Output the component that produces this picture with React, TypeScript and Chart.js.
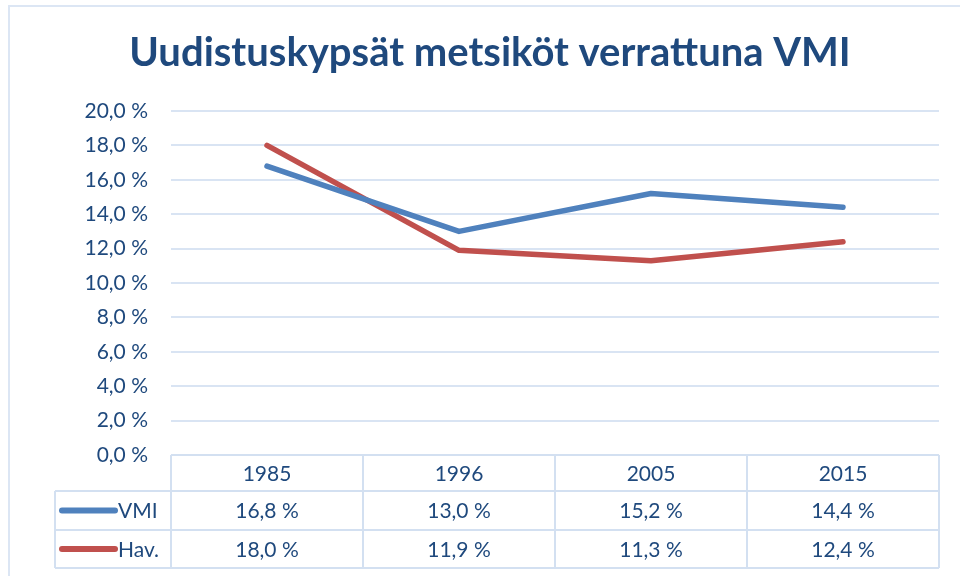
import React, { useEffect, useRef } from "react";
import { Chart, registerables } from "chart.js";

Chart.register(...registerables);

const categories = ["1985", "1996", "2005", "2015"];
const vmiValues = [16.8, 13.0, 15.2, 14.4];
const havValues = [18.0, 11.9, 11.3, 12.4];
const seriesNames = ["VMI", "Hav."];
const yTicks = { min: 0, max: 20, step: 2 };
const titleText = "Uudistuskypsät metsiköt verrattuna VMI";

const TEXT = "#1F497D";
const GRID = "#D9E4F3";
const TABLE = "#D3E0F1";
const COLORS = ["#4F81BD", "#C0504D"];
const FONT = "Lato, 'Noto Sans', sans-serif";

const fmt = (v: number) => v.toFixed(1).replace(".", ",") + " %";

const tablePlugin = {
  id: "dataTable",
  afterDraw(chart: any) {
    const ctx = chart.ctx as CanvasRenderingContext2D;
    const area = chart.chartArea;
    const x = chart.scales.x;
    const top = area.bottom;
    const rows = [top, top + 36, top + 75, top + 113];
    const legendLeft = 55;
    ctx.save();
    // outer chart border
    ctx.strokeStyle = "#DCE6F4";
    ctx.lineWidth = 2;
    ctx.strokeRect(9, 6, 1000, 1000);

    // title
    ctx.font = "bold 40px " + FONT;
    ctx.fillStyle = TEXT;
    ctx.textAlign = "center";
    ctx.textBaseline = "middle";
    ctx.fillText(titleText, 490, 53);

    ctx.strokeStyle = TABLE;
    ctx.lineWidth = 2;
    ctx.beginPath();
    ctx.moveTo(area.left, rows[0]);
    ctx.lineTo(area.right, rows[0]);
    for (let i = 1; i < rows.length; i++) {
      ctx.moveTo(legendLeft, rows[i]);
      ctx.lineTo(area.right, rows[i]);
    }
    const n = categories.length;
    const colW = (area.right - area.left) / n;
    for (let i = 0; i <= n; i++) {
      const cx = area.left + colW * i;
      ctx.moveTo(cx, rows[0]);
      ctx.lineTo(cx, rows[3]);
    }
    ctx.moveTo(legendLeft, rows[1]);
    ctx.lineTo(legendLeft, rows[3]);
    ctx.stroke();

    ctx.font = "21px " + FONT;
    ctx.fillStyle = TEXT;
    ctx.textAlign = "center";
    ctx.textBaseline = "middle";
    const series = [vmiValues, havValues];
    categories.forEach((c, i) => {
      const cx = x.getPixelForValue(i);
      ctx.fillText(c, cx, (rows[0] + rows[1]) / 2 + 1);
      series.forEach((s, j) => {
        ctx.fillText(fmt(s[i]), cx, (rows[j + 1] + rows[j + 2]) / 2 + 1);
      });
    });
    ctx.textAlign = "left";
    seriesNames.forEach((name, j) => {
      const cy = (rows[j + 1] + rows[j + 2]) / 2;
      ctx.strokeStyle = COLORS[j];
      ctx.lineWidth = 6;
      ctx.lineCap = "round";
      ctx.beginPath();
      ctx.moveTo(62, cy);
      ctx.lineTo(115, cy);
      ctx.stroke();
      ctx.fillStyle = TEXT;
      ctx.fillText(name, 118, cy + 1);
    });
    ctx.restore();
  },
};

export default function App() {
  const ref = useRef<HTMLCanvasElement | null>(null);
  useEffect(() => {
    document.body.style.margin = "0";
    const chart = new Chart(ref.current as HTMLCanvasElement, {
      type: "line",
      data: {
        labels: categories,
        datasets: [
          {
            label: seriesNames[0],
            data: vmiValues,
            borderColor: COLORS[0],
            backgroundColor: COLORS[0],
            borderWidth: 5.5,
            pointRadius: 0,
            borderCapStyle: "round",
            borderJoinStyle: "round",
            tension: 0,
          },
          {
            label: seriesNames[1],
            data: havValues,
            borderColor: COLORS[1],
            backgroundColor: COLORS[1],
            borderWidth: 5.5,
            pointRadius: 0,
            borderCapStyle: "round",
            borderJoinStyle: "round",
            tension: 0,
          },
        ],
      },
      options: {
        animation: false,
        responsive: false,
        layout: { padding: { left: 0, right: 21, top: 111, bottom: 121 } },
        plugins: {
          legend: { display: false },
          tooltip: { enabled: false },
          title: { display: false },
        },
        scales: {
          x: {
            display: false,
            offset: true,
          },
          y: {
            min: yTicks.min,
            max: yTicks.max,
            afterFit: (axis: any) => {
              axis.width = 171;
            },
            ticks: {
              stepSize: yTicks.step,
              color: TEXT,
              padding: 23,
              font: { family: FONT, size: 21 },
              callback: (v: any) => fmt(Number(v)),
            },
            grid: { color: GRID, lineWidth: 2, drawTicks: false },
            border: { display: false },
          },
        },
      },
      plugins: [tablePlugin],
    });
    return () => chart.destroy();
  }, []);
  return <canvas ref={ref} width={960} height={576} style={{ display: "block" }} />;
}
